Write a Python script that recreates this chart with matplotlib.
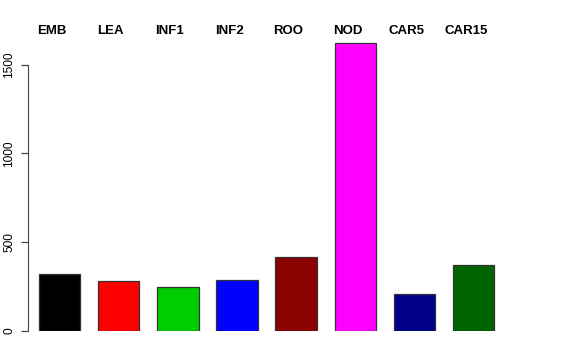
import numpy as np
import matplotlib
matplotlib.use("Agg")
import matplotlib.pyplot as plt

labels = ["EMB", "LEA", "INF1", "INF2", "ROO", "NOD", "CAR5", "CAR15"]
values = [318, 282, 246, 288, 414, 1622, 205, 372]
colors = ["#000000", "#FF0000", "#00CD00", "#0000FF", "#8B0000", "#FF00FF", "#00008B", "#006400"]
yticks = [0, 500, 1000, 1500]

W, H = 576, 360
fig = plt.figure(figsize=(W / 100, H / 100), dpi=100)
# axes placed in pixel terms
left_px, right_px, bottom_px = 28, 560, 360 - 330.7
ytop = 1640
height_px = ytop * 88.7 / 500
ax = fig.add_axes([left_px / W, bottom_px / H, (right_px - left_px) / W, height_px / H])

x = np.arange(len(values))
ax.bar(x, values, width=0.703, color=colors, edgecolor="#333333", linewidth=0.9)

pitch = 59.17
ax.set_xlim((left_px - 59.5) / pitch, (right_px - 59.5) / pitch)
ax.set_ylim(0, ytop)

for s in ["top", "right", "bottom"]:
    ax.spines[s].set_visible(False)
ax.spines["left"].set_bounds(0, 1500)
ax.spines["left"].set_color("#444444")
ax.set_xticks([])
ax.set_yticks(yticks)
ax.set_yticklabels([str(v) for v in yticks], rotation=90, va="center",
                   fontsize=8.6, family="Liberation Sans")
ax.tick_params(axis="y", length=5, width=0.9, color="#444444", pad=4)

# group labels along the top, baseline ~34px from the top of the figure
axes_top = H - bottom_px - height_px
label_y = 1.0 + (axes_top - 34) / height_px
for i, lab in enumerate(labels):
    ax.text(x[i] - 8 / pitch, label_y, lab, transform=ax.get_xaxis_transform(),
            ha="center", va="baseline", fontsize=9.5, fontweight="bold",
            family="Liberation Sans")

fig.savefig("out.png", dpi=100)
